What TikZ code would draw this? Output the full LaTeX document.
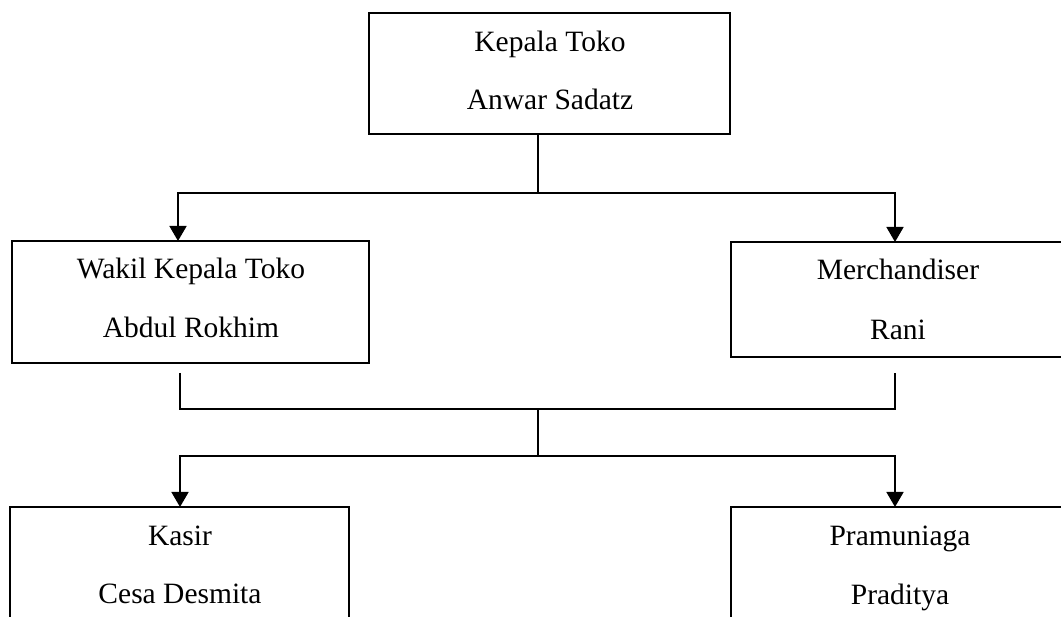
\documentclass[tikz,border=0pt]{standalone}
\usepackage{fontspec}
\setmainfont{Liberation Serif}
\usetikzlibrary{arrows.meta}
\begin{document}
\begin{tikzpicture}[x=1pt,y=-1pt,
 box/.style={draw,line width=1.6pt,anchor=north west,inner sep=0pt,outer sep=0pt},
 lbl/.style={anchor=base,inner sep=0pt,font=\fontsize{29.5}{35}\selectfont},
 conn/.style={line width=1.6pt},
 arr/.style={conn,-{Triangle[width=17pt,length=15pt]}}]
\useasboundingbox (0,0) rectangle (1061,617);
\clip (0,0) rectangle (1061,617);
% boxes
\node[box,minimum width=361pt,minimum height=121pt] (top) at (369,13) {};
\node[box,minimum width=357pt,minimum height=122pt] (wk) at (12,241) {};
\node[box,minimum width=340pt,minimum height=115pt] (mc) at (731,242) {};
\node[box,minimum width=339pt,minimum height=140pt] (ks) at (10,507) {};
\node[box,minimum width=340pt,minimum height=140pt] (pm) at (731,507) {};
% labels
\node[lbl] (t1) at (550,52) {Kepala Toko};
\node[lbl] (t2) at (550,110) {Anwar Sadatz};
\node[lbl] (w1) at (191,279) {Wakil Kepala Toko};
\node[lbl] (w2) at (191,338) {Abdul Rokhim};
\node[lbl] (m1) at (898,280) {Merchandiser};
\node[lbl] (m2) at (898,340) {Rani};
\node[lbl] (k1) at (180,545) {Kasir};
\node[lbl] (k2) at (180,603) {Cesa Desmita};
\node[lbl] (p1) at (900,545) {Pramuniaga};
\node[lbl] (p2) at (900,604) {Praditya};
% junctions
\coordinate (j1) at (538,193);
\coordinate (a1) at (178,193);
\coordinate (a2) at (895,193);
\coordinate (s1) at (180,373);
\coordinate (s2) at (895,373);
\coordinate (b1) at (180,409);
\coordinate (b2) at (895,409);
\coordinate (j2) at (538,409);
\coordinate (j3) at (538,456);
\coordinate (c1) at (180,456);
\coordinate (c2) at (895,456);
% connectors
\draw[conn] (top.south -| j1) -- (j1);
\draw[arr] (j1) -- (a1) -- (wk.north -| a1);
\draw[arr] (j1) -- (a2) -- (mc.north -| a2);
\draw[conn] (s1) -- (b1) -- (b2) -- (s2);
\draw[conn] (j2) -- (j3);
\draw[arr] (j3) -- (c1) -- (ks.north -| c1);
\draw[arr] (j3) -- (c2) -- (pm.north -| c2);
\end{tikzpicture}
\end{document}
